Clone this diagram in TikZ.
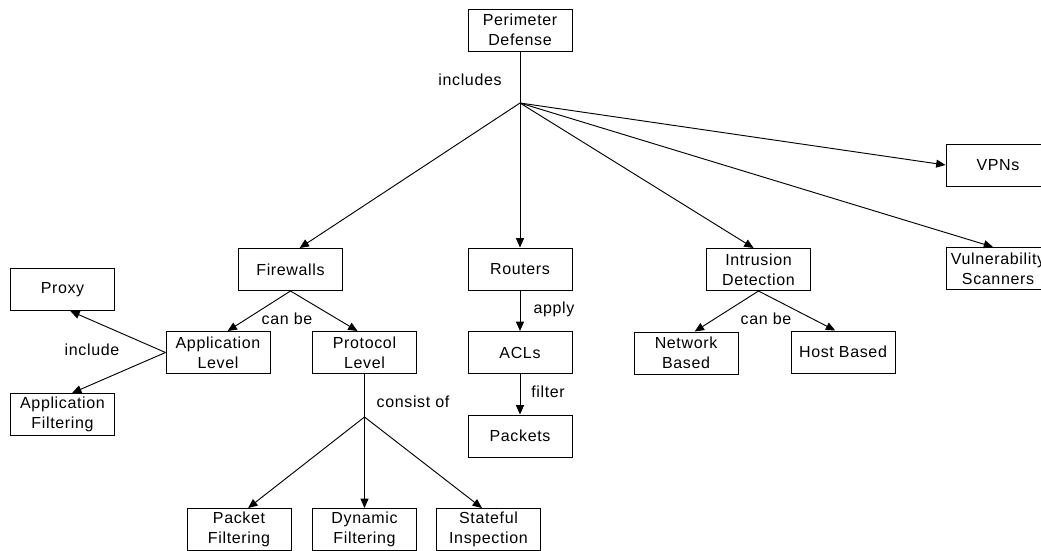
\documentclass[tikz,border=0pt]{standalone}
\usepackage{fontspec}
\setmainfont{Liberation Sans}[LetterSpace=4]
\usepackage{tikz}
\usetikzlibrary{arrows.meta}
\usetikzlibrary{calc}
\tikzset{>=latex}

\begin{document}
\begin{tikzpicture}[x=0.75pt,y=-0.75pt,
		box/.style = {draw, line width=0.75pt, minimum width=78pt, minimum height=31.5pt,
			inner sep=1pt, align=center, font=\fontsize{12}{15}\selectfont},
		lbl/.style = {inner sep=1pt, font=\fontsize{12}{15}\selectfont},
		arr/.style = {-{Triangle[length=7pt,width=6pt]}, line width=0.7pt},
		ln/.style = {line width=0.7pt},]
		\clip (0,0) rectangle (1041,550);
		\node[box] (pd) at (520,30) {Perimeter\\Defense};
		\node[box] (fw) at (290.5,269.5) {Firewalls};
		\node[box] (rt) at (520,269) {Routers};
		\node[box] (ids) at (758.5,269.5) {Intrusion\\Detection};
		\node[box] (vpn) at (998,165) {VPNs};
		\node[box] (vs) at (998,268.5) {Vulnerability\\Scanners};
		\node[box] (proxy) at (62.5,289.5) {Proxy};
		\node[box] (applvl) at (218,352.5) {Application\\Level};
		\node[box] (protlvl) at (364.5,352.5) {Protocol\\Level};
		\node[box] (appflt) at (62.5,414.5) {Application\\Filtering};
		\node[box] (acl) at (520,352.5) {ACLs};
		\node[box] (pkts) at (520,436) {Packets};
		\node[box] (netb) at (686,353) {Network\\Based};
		\node[box] (hostb) at (843,352) {Host Based};
		\node[box] (pktf) at (239,529.5) {Packet\\Filtering};
		\node[box] (dynf) at (364.5,529.5) {Dynamic\\Filtering};
		\node[box] (stf) at (488.5,529.5) {Stateful\\Inspection};
		\coordinate (hub1) at (520,103);
		\coordinate (hub2) at (364.5,417);
		\node[lbl] (l1) at (470,80) {includes};
		\node[lbl] (l2) at (287,319) {can be};
		\node[lbl] (l3) at (92,350) {include};
		\node[lbl] (l4) at (554,309) {apply};
		\node[lbl] (l5) at (548,392) {filter};
		\node[lbl] (l6) at (413,402) {consist of};
		\node[lbl] (l7) at (766,319) {can be};
		\draw[ln] (pd) -- (hub1);
		\foreach \t in {fw.67, rt.north, ids.103, vpn.west, vs.103}
		{
			\draw[arr] (hub1) -- (\t);
		};
		\draw[arr] (fw.south) -- (applvl.66);
		\draw[arr] (fw.south) -- (protlvl.108);
		\draw[arr] (applvl.west) -- (proxy.-70);
		\draw[arr] (applvl.west) -- (appflt.66);
		\draw[arr] (rt) -- (acl);
		\draw[arr] (acl) -- (pkts);
		\draw[arr] (ids.south) -- (netb.68);
		\draw[arr] (ids.south) -- (hostb.110);
		\draw[ln] (protlvl) -- (hub2);
		\foreach \t in {pktf.67, dynf.north, stf.107}
		{
			\draw[arr] (hub2) -- (\t);
		};
	\end{tikzpicture}
\end{document}
